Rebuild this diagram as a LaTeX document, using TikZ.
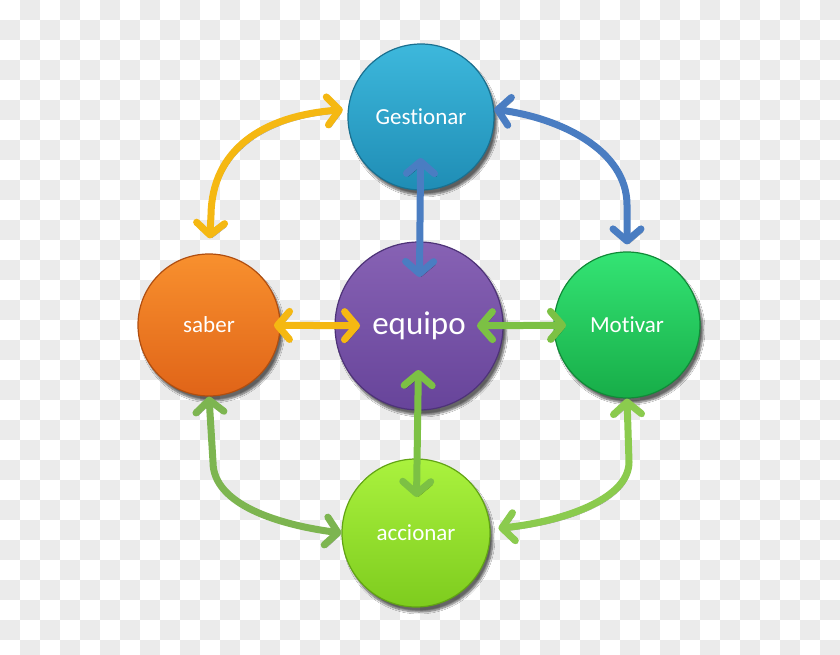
\documentclass[tikz,border=0pt]{standalone}
\usepackage{fontspec}
\setmainfont[Ligatures=NoCommon]{Carlito}
\usetikzlibrary{arrows.meta,shadows.blur,calc}
\definecolor{chk}{HTML}{EBEBEB}
\definecolor{gestT}{HTML}{3DB8DC}
\definecolor{gestB}{HTML}{1F8DB5}
\definecolor{gestD}{HTML}{1A7090}
\definecolor{sabT}{HTML}{F8902E}
\definecolor{sabB}{HTML}{E06418}
\definecolor{sabD}{HTML}{B04E10}
\definecolor{eqT}{HTML}{8762B4}
\definecolor{eqB}{HTML}{67449A}
\definecolor{eqD}{HTML}{4E3378}
\definecolor{motT}{HTML}{34E474}
\definecolor{motB}{HTML}{17AD48}
\definecolor{motD}{HTML}{118A38}
\definecolor{accT}{HTML}{AAF23E}
\definecolor{accB}{HTML}{7ECC1E}
\definecolor{accD}{HTML}{62A414}
\definecolor{arrY}{HTML}{F5B812}
\definecolor{arrB}{HTML}{4A7DC2}
\definecolor{arrG}{HTML}{7DB550}
\definecolor{arrG2}{HTML}{8BCB4E}
\definecolor{arrG3}{HTML}{7CC144}
\tikzset{
  ball/.style={circle, minimum size=#1, inner sep=0pt, text=white,
    font=\fontsize{23}{27}\selectfont, line width=1.2pt,
    blur shadow={shadow xshift=3pt, shadow yshift=-5pt, shadow blur steps=8, shadow opacity=60}},
  arr/.style={line width=7pt, line cap=round, line join=round,
    {Straight Barb[length=12pt,width=28pt,round]}-{Straight Barb[length=12pt,width=28pt,round]},
    preaction={draw=black, draw opacity=0.4, transform canvas={shift={(2pt,-3pt)}}}}
}
\begin{document}
\begin{tikzpicture}[x=1pt,y=-1pt]
\useasboundingbox (0,0) rectangle (840,655);
\fill[white] (0,0) rectangle (840,655);
\begin{scope}
\clip (0,0) rectangle (840,655);
\foreach \i in {0,...,41}{\foreach \j in {0,...,32}{%
  \pgfmathtruncatemacro\s{mod(\i+\j,2)}%
  \ifnum\s=1 \fill[chk] (\i*20,\j*20) rectangle ++(20,20);\fi}}
\end{scope}

\node[ball=146pt, top color=gestT, bottom color=gestB, draw=gestD] (gest) at (421,117) {Gestionar};
\node[ball=142pt, top color=sabT, bottom color=sabB, draw=sabD] (saber) at (209,325) {saber};
\node[ball=168pt, top color=eqT, bottom color=eqB, draw=eqD, font=\fontsize{33}{38}\selectfont] (equipo) at (419,326) {equipo};
\node[ball=146pt, top color=motT, bottom color=motB, draw=motD] (motiv) at (627,325) {Motivar};
\node[ball=148pt, top color=accT, bottom color=accB, draw=accD] (accion) at (416,533) {accionar};

% curved connectors
\draw[arr, arrY, shorten <=15pt, shorten >=5pt] (saber.north) -- (211,215) .. controls (212,150) and (262,116) .. (gest.174);
\draw[arr, arrB, shorten >=7pt] (gest.6) .. controls (560,118) and (627,150) .. (627,205) -- (motiv.north);
\draw[arr, arrG] (saber.south) -- (213,462) .. controls (213,505) and (280,525) .. (accion.180);
\draw[arr, arrG2, shorten >=8pt] (motiv.south) -- (629,462) .. controls (629,500) and (560,522) .. (accion.3);

% straight connectors
\draw[arr, arrB, shorten <=41pt, shorten >=49pt] (gest.center) -- (equipo.center);
\draw[arr, arrY, shorten <=65pt, shorten >=59pt] (saber.center) -- (equipo.center);
\draw[arr, arrG3, shorten <=58pt, shorten >=61pt] (equipo.center) -- (motiv.center);
\draw[arr, arrG3, shorten <=44pt, shorten >=36pt] (equipo.center) -- (accion.center);
\end{tikzpicture}
\end{document}
